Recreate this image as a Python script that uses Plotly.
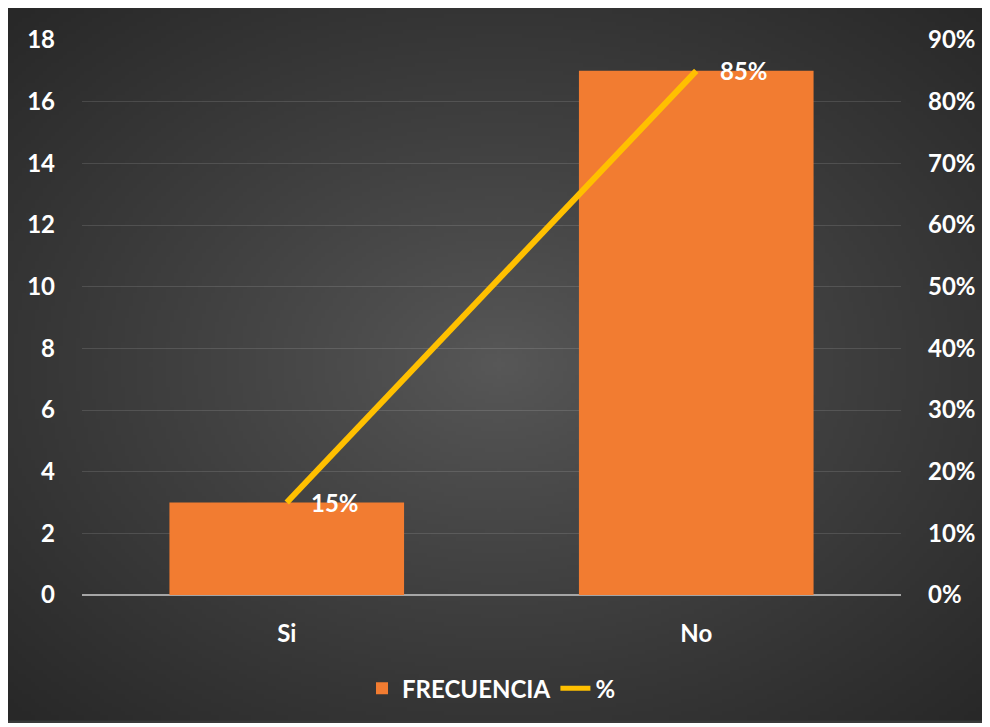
import base64, struct, zlib
import numpy as np
import plotly.graph_objects as go

# ---- data ----
categories = ["Si", "No"]
frecuencia = [3, 17]
porcentaje = [0.15, 0.85]
porcentaje_labels = ["15%", "85%"]

# ---- radial gradient background (decoration) ----
def radial_png(w, h, c_center=88, c_edge=40):
    yy, xx = np.mgrid[0:h, 0:w]
    cx, cy = (w - 1) / 2, (h - 1) / 2
    r = np.sqrt(((xx - cx) / cx) ** 2 + ((yy - cy) / cy) ** 2) / np.sqrt(2)
    v = c_center - (c_center - c_edge) * np.clip(r, 0, 1) ** 0.9
    img = np.clip(v, 0, 255).astype(np.uint8)
    rgb = np.stack([img, img, img], axis=-1)
    raw = b"".join(b"\x00" + rgb[i].tobytes() for i in range(h))
    def chunk(t, d):
        c = struct.pack(">I", len(d)) + t + d
        return c + struct.pack(">I", zlib.crc32(t + d) & 0xFFFFFFFF)
    png = b"\x89PNG\r\n\x1a\n" + chunk(b"IHDR", struct.pack(">IIBBBBB", w, h, 8, 2, 0, 0, 0)) \
        + chunk(b"IDAT", zlib.compress(raw, 9)) + chunk(b"IEND", b"")
    return "data:image/png;base64," + base64.b64encode(png).decode()

bg = radial_png(240, 176)

FONT = "Lato"
W, H = 982, 715
L, R, T, B = 74, 89, 32, 126
pw, ph = W - L - R, H - T - B

def px2paper_x(px):
    return (px - L) / pw

def py2paper_y(py):
    return (H - B - py) / ph

tickfont = dict(family=FONT, size=24, color="white", weight="bold")

fig = go.Figure()
fig.add_trace(go.Bar(
    x=categories, y=frecuencia, name="FRECUENCIA",
    marker=dict(color="#F27C31", line=dict(width=0)),
    yaxis="y",
))
fig.add_trace(go.Scatter(
    x=categories, y=porcentaje, name="%", yaxis="y2",
    mode="lines",
    line=dict(color="#FFC000", width=6),
))

annotations = [
    dict(x=c, y=p, xref="x", yref="y2", text=t, showarrow=False,
         xanchor="left", yanchor="middle", xshift=22, yshift=0,
         font=dict(family=FONT, size=24, color="white", weight="bold"))
    for c, p, t in zip(categories, porcentaje, porcentaje_labels)
]

x0 = px2paper_x(0)
x1 = px2paper_x(W)
y0 = py2paper_y(0)
y1 = py2paper_y(H)

fig.update_layout(
    width=W, height=H,
    margin=dict(l=L, r=R, t=T, b=B, pad=0),
    paper_bgcolor="#3a3a3a",
    plot_bgcolor="rgba(0,0,0,0)",
    font=dict(family=FONT, size=24, color="white", weight="bold"),
    bargap=0.427,
    annotations=annotations,
    images=[dict(source=bg, xref="paper", yref="paper", x=x0, y=y0,
                 sizex=x1 - x0, sizey=y0 - y1, xanchor="left", yanchor="top",
                 sizing="stretch", layer="below")],
    xaxis=dict(showgrid=False, showline=False, zeroline=False, ticks="",
               ticklabelstandoff=22, tickfont=tickfont),
    yaxis=dict(range=[0, 18], dtick=2, showgrid=True,
               gridcolor="rgba(255,255,255,0.12)", gridwidth=1,
               zeroline=True, zerolinecolor="#A6A6A6", zerolinewidth=2,
               showline=False, ticks="", ticklabelstandoff=26, tickfont=tickfont),
    yaxis2=dict(range=[0, 0.9], dtick=0.1, tickformat=".0%", overlaying="y",
                side="right", showgrid=False, zeroline=False, showline=False,
                ticks="", ticklabelstandoff=26, tickfont=tickfont),
    legend=dict(orientation="h", x=0.5, xanchor="center",
                y=py2paper_y(683), yanchor="middle",
                bgcolor="rgba(0,0,0,0)",
                font=dict(family=FONT, size=24, color="white", weight="bold"),
                itemsizing="constant"),
    showlegend=True,
)

fig.write_html("out.html")
